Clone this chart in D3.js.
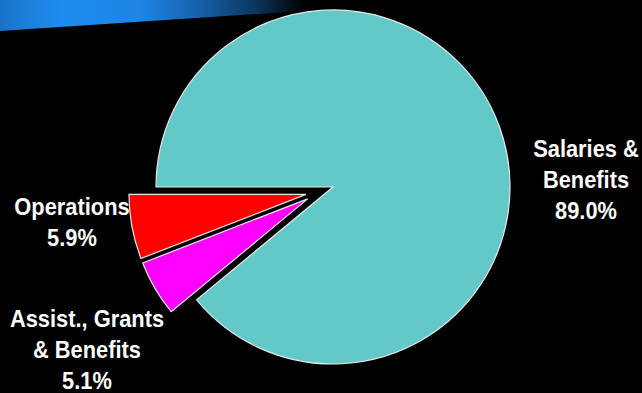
<!DOCTYPE html>
<html>
<head>
<meta charset="utf-8">
<script src="https://cdn.jsdelivr.net/npm/d3@7"></script>
<style>
  html, body { margin: 0; padding: 0; background: #000; }
  svg { display: block; }
  .lbl { font-family: "Liberation Sans Narrow", "Arial Narrow", "Liberation Sans", sans-serif; font-weight: bold; font-size: 23px; fill: #fff; }
</style>
</head>
<body>
<div id="chart"></div>
<script>
// Data
var categories = ["Salaries & Benefits", "Assist., Grants & Benefits", "Operations"];
var shares = [89.0, 5.1, 5.9];
var labelLines = [["Salaries &", "Benefits", "89.0%"], ["Assist., Grants", "& Benefits", "5.1%"], ["Operations", "5.9%"]];
var exploded = [false, true, true];

var width = 642, height = 393;
var cx = 333, cy = 187, radius = 177;
var explodeDist = 28;
var colors = ["#63c8c8", "#ff00ff", "#ff0000"];

var svg = d3.select("#chart").append("svg")
	.attr("width", width)
	.attr("height", height);

// blue swoosh at the top left
var defs = svg.append("defs");
var grad = defs.append("linearGradient")
	.attr("id", "swoosh")
	.attr("x1", 0).attr("x2", 1).attr("y1", 0).attr("y2", 0);
[[0, "#1a74c8"], [0.2, "#1e8cf0"], [0.45, "#1d86e6"], [0.65, "#1562ac"], [0.83, "#0c3762"], [1, "#000"]]
	.forEach(function (s) {
		grad.append("stop").attr("offset", s[0]).attr("stop-color", s[1]);
	});
svg.append("path")
	.attr("d", "M0,0 L298,0 C310,2 308,9 288,12 L0,31 Z")
	.attr("fill", "url(#swoosh)");

var pie = d3.pie()
	.sort(null)
	.startAngle(-Math.PI / 2)
	.endAngle(Math.PI * 1.5)
	.value(function (d) { return d; });

var arcs = pie(shares);
var arc = d3.arc().innerRadius(0).outerRadius(radius);

// direction of the exploded group
var ex = arcs.filter(function (d, i) { return exploded[i]; });
var groupMid = (d3.min(ex, function (d) { return d.startAngle; }) + d3.max(ex, function (d) { return d.endAngle; })) / 2;

function offset(d, i) {
	if (!exploded[i]) return [0, 0];
	var a = ((d.startAngle + d.endAngle) / 2 + groupMid) / 2;
	return [Math.sin(a) * explodeDist, -Math.cos(a) * explodeDist];
}

var g = svg.append("g").attr("transform", "translate(" + cx + "," + cy + ")");

g.selectAll("path.slice")
	.data(arcs)
	.enter().append("path")
	.attr("class", "slice")
	.attr("transform", function (d, i) {
		var o = offset(d, i);
		return "translate(" + o[0] + "," + o[1] + ")";
	})
	.attr("d", arc)
	.attr("fill", function (d, i) { return colors[i]; })
	.attr("stroke", "#e8e8e8")
	.attr("stroke-width", 1.2)
	.attr("stroke-linejoin", "miter");

// labels (slightly condensed to look like a narrow face)
var labelPos = [[586, 157], [87, 327], [72, 215]];
var lineGap = 31;
labelLines.forEach(function (lines, i) {
	var t = svg.append("g")
		.attr("transform", "translate(" + labelPos[i][0] + "," + labelPos[i][1] + ") scale(0.95,1)")
		.append("text")
		.attr("class", "lbl")
		.attr("text-anchor", "middle");
	lines.forEach(function (s, j) {
		t.append("tspan")
			.attr("x", 0)
			.attr("dy", j === 0 ? 0 : lineGap)
			.text(s);
	});
});
</script>
</body>
</html>
